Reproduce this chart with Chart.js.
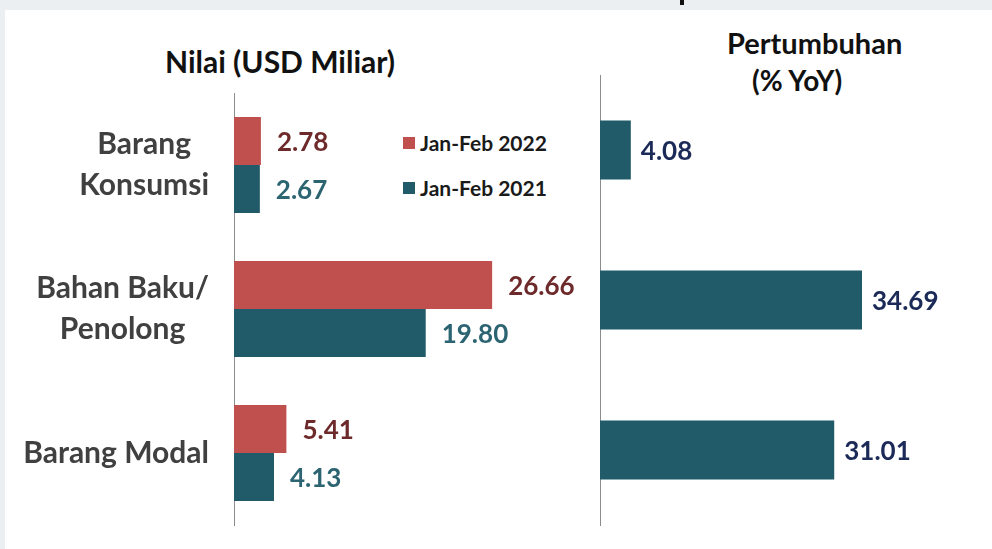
<!DOCTYPE html>
<html>
<head>
<meta charset="utf-8">
<script src="https://cdn.jsdelivr.net/npm/chart.js@4"></script>
<style>
  html, body { margin: 0; padding: 0; }
  body { width: 992px; height: 549px; background: #eceff1; position: relative; overflow: hidden; font-family: Lato, "Open Sans", sans-serif; }
  #panel { position: absolute; left: 5px; top: 10px; right: 0; bottom: 0; background: #ffffff; }
  canvas { position: absolute; top: 0; }
  .txt { position: absolute; font-weight: bold; white-space: nowrap; line-height: 1; }
  .sq { position: absolute; width: 12px; height: 12px; }
</style>
</head>
<body>
<div id="panel"></div>
<div style="position:absolute;left:680px;top:0;width:4px;height:5px;background:#111"></div>

<div class="txt" style="left:165px;top:46px;font-size:30px;color:#111">Nilai (USD Miliar)</div>
<div class="txt" style="left:727px;top:28px;font-size:29px;color:#111">Pertumbuhan</div>
<div class="txt" style="left:752px;top:66px;font-size:28px;color:#111">(% YoY)</div>

<div class="sq" style="left:403px;top:137px;background:#c0504d"></div>
<div class="txt" style="left:420px;top:132px;font-size:21px;color:#1a1a1a">Jan-Feb 2022</div>
<div class="sq" style="left:403px;top:182px;background:#215a68"></div>
<div class="txt" style="left:420px;top:177px;font-size:21px;color:#1a1a1a">Jan-Feb 2021</div>

<canvas id="nilaiChart" width="600" height="549" style="left:0"></canvas>
<canvas id="tumbuhChart" width="402" height="549" style="left:590px"></canvas>

<script>
// data
const kategori = [['Barang', 'Konsumsi'], ['Bahan Baku/', 'Penolong'], ['Barang Modal']];
const nilai2022 = [2.78, 26.66, 5.41];
const nilai2021 = [2.67, 19.80, 4.13];
const pertumbuhan = [4.08, 34.69, 31.01];

const merah = '#c0504d';
const hijau = '#215a68';

// tulis angka di ujung batang
const labelNilai = {
    id: 'labelNilai',
    afterDatasetsDraw(chart, args, opts) {
        const ctx = chart.ctx;
        ctx.save();
        ctx.font = 'bold ' + opts.size + 'px Lato, "Open Sans", sans-serif';
        ctx.textAlign = 'left';
        ctx.textBaseline = 'middle';
        chart.data.datasets.forEach((ds, i) => {
            const meta = chart.getDatasetMeta(i);
            ctx.fillStyle = opts.colors[i];
            meta.data.forEach((bar, j) => {
                ctx.fillText(ds.data[j].toFixed(2), bar.x + opts.offset, bar.y + 2);
            });
        });
        ctx.restore();
    }
};

// label kategori di kiri, rata tengah per baris
const labelKategori = {
    id: 'labelKategori',
    afterDraw(chart) {
        const ctx = chart.ctx;
        const sumbuY = chart.scales.y;
        ctx.save();
        ctx.font = 'bold 30px Lato, "Open Sans", sans-serif';
        ctx.fillStyle = '#404040';
        ctx.textAlign = 'center';
        ctx.textBaseline = 'middle';
        kategori.forEach((baris, i) => {
            const yc = sumbuY.getPixelForValue(i);
            const lebar = Math.max(...baris.map(t => ctx.measureText(t).width));
            const xc = 209 - lebar / 2;
            const tinggi = 41;
            baris.forEach((t, k) => {
                ctx.fillText(t, xc, yc + (k - (baris.length - 1) / 2) * tinggi);
            });
        });
        ctx.restore();
    }
};

new Chart(document.getElementById('nilaiChart').getContext('2d'), {
    type: 'bar',
    data: {
        labels: kategori,
        datasets: [
            { label: 'Jan-Feb 2022', data: nilai2022, backgroundColor: merah },
            { label: 'Jan-Feb 2021', data: nilai2021, backgroundColor: hijau }
        ]
    },
    options: {
        indexAxis: 'y',
        responsive: false,
        animation: false,
        categoryPercentage: 0.667,
        barPercentage: 1,
        layout: { padding: { top: 93, bottom: 24, left: 0, right: 0 } },
        plugins: {
            legend: { display: false },
            tooltip: { enabled: false },
            labelNilai: { size: 26, offset: 16, colors: ['#6e2a2b', '#2c6472'] }
        },
        scales: {
            x: { display: false, min: 0, max: 37.8 },
            y: {
                grid: { display: false },
                border: { display: true, color: '#8c8c8c', width: 1 },
                ticks: { display: false },
                afterFit(scale) { scale.width = 234; }
            }
        }
    },
    plugins: [labelNilai, labelKategori]
});

new Chart(document.getElementById('tumbuhChart').getContext('2d'), {
    type: 'bar',
    data: {
        labels: kategori,
        datasets: [
            { label: 'Pertumbuhan', data: pertumbuhan, backgroundColor: hijau }
        ]
    },
    options: {
        indexAxis: 'y',
        responsive: false,
        animation: false,
        categoryPercentage: 0.393,
        barPercentage: 1,
        layout: { padding: { top: 75, bottom: 24, left: 0, right: 0 } },
        plugins: {
            legend: { display: false },
            tooltip: { enabled: false },
            labelNilai: { size: 26, offset: 10, colors: ['#1b2a57'] }
        },
        scales: {
            x: { display: false, min: 0, max: 51.9 },
            y: {
                grid: { display: false },
                border: { display: true, color: '#8c8c8c', width: 1 },
                ticks: { display: false },
                afterFit(scale) { scale.width = 10; }
            }
        }
    },
    plugins: [labelNilai]
});
</script>
</body>
</html>
